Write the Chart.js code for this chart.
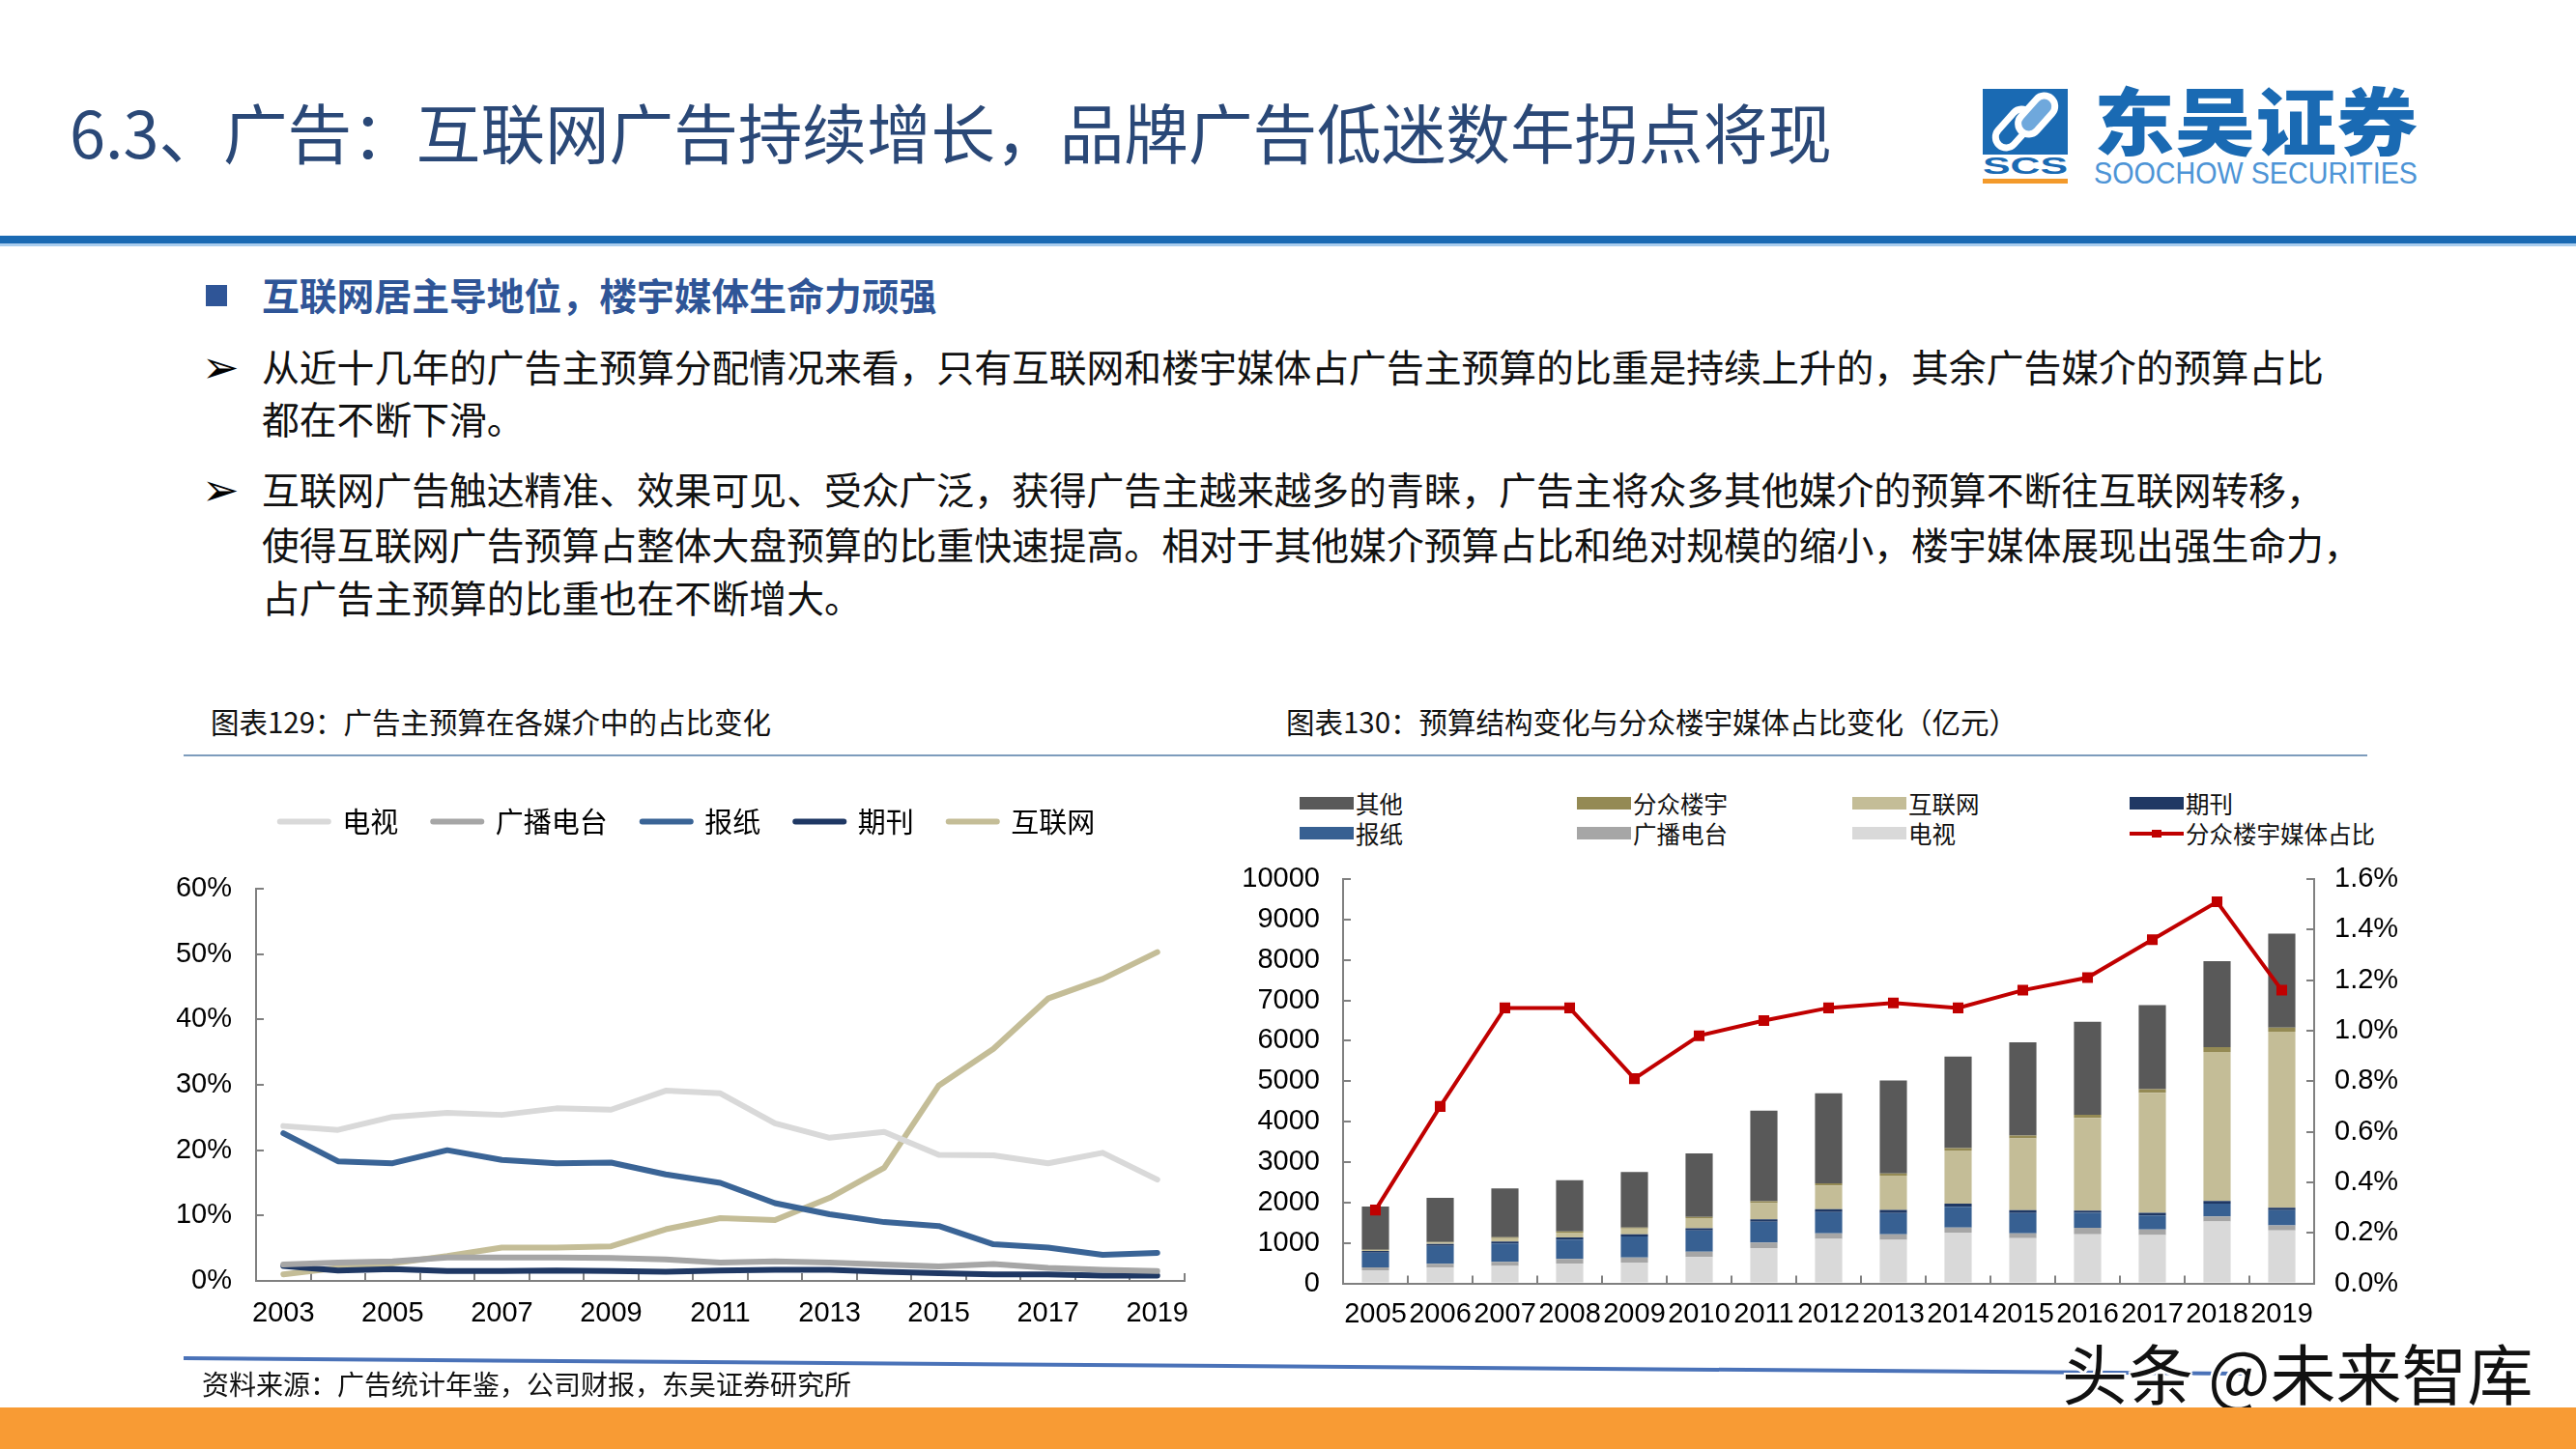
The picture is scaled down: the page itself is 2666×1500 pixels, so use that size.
<!DOCTYPE html>
<html><head><meta charset="utf-8">
<script src="https://cdn.jsdelivr.net/npm/chart.js@4.4.0/dist/chart.umd.min.js"></script>
<style>
html,body{margin:0;padding:0;background:#fff;}
body{width:2666px;height:1500px;position:relative;overflow:hidden;font-family:"Noto Sans CJK SC","Liberation Sans",sans-serif;}
.abs{position:absolute;white-space:nowrap;}
.title{left:72px;top:102px;font-size:66.6px;line-height:66.6px;color:#2a4877;}
.rule{left:0;top:244px;width:2666px;height:8px;background:#1a6ab3;}
.rule2{left:0;top:252px;width:2666px;height:3px;background:#a9cdee;}
.sq{left:213px;top:295px;width:22px;height:22px;background:#2f5597;}
.head{left:271px;top:285px;font-size:38.8px;line-height:38.8px;font-weight:bold;color:#2f5597;}
.body{left:271px;font-size:38.8px;line-height:38.8px;color:#111;}
.arrow{left:209px;font-family:"DejaVu Sans";font-size:46px;line-height:46px;color:#000;}
.ctitle{top:732px;font-size:29.5px;line-height:29.5px;color:#111;}
.sep{left:190px;top:781px;width:2260px;height:2px;background:#7d9cbc;}
.src{left:209px;top:1418px;font-size:28px;line-height:28px;color:#111;}
.wm{left:2134px;top:1386px;font-size:68px;line-height:68px;color:#111;
 text-shadow:2px 0 #fff,-2px 0 #fff,0 2px #fff,0 -2px #fff,2px 2px #fff,-2px -2px #fff,2px -2px #fff,-2px 2px #fff;}
.orange{left:0;top:1457px;width:2666px;height:43px;background:#f89b34;}
.lg{position:absolute;display:flex;align-items:center;height:30px;white-space:nowrap;}
.lg .bx{width:56px;height:13px;}
.lg .tx{margin-left:2px;font-size:24.5px;line-height:30px;color:#111;}
</style>
</head>
<body>
<div class="abs title">6.3、广告：互联网广告持续增长，品牌广告低迷数年拐点将现</div>

<svg class="abs" style="left:2048px;top:88px;" width="470" height="110" xmlns="http://www.w3.org/2000/svg">
  <rect x="4" y="4" width="88" height="68" fill="#1a6ab3"/>
  <g transform="rotate(-48 48 38)">
    <rect x="12" y="23" width="46" height="22" rx="11" fill="none" stroke="#fff" stroke-width="7"/>
    <rect x="38" y="31" width="46" height="22" rx="11" fill="#6fa8dc" stroke="#fff" stroke-width="7"/>
  </g>
  <text x="4" y="92" font-family="Liberation Sans" font-weight="bold" font-size="24" textLength="88" lengthAdjust="spacingAndGlyphs" fill="#1a6ab3">SCS</text>
  <rect x="4" y="97" width="88" height="5" fill="#f39a2b"/>
  <text x="119" y="67" font-family="Noto Sans CJK SC" font-weight="900" font-size="76" textLength="335" lengthAdjust="spacingAndGlyphs" fill="#1a6ab3">东吴证券</text>
  <text x="119" y="102" font-family="Liberation Sans" font-size="31" textLength="335" lengthAdjust="spacingAndGlyphs" fill="#4d94d6">SOOCHOW SECURITIES</text>
</svg>

<div class="abs rule"></div>
<div class="abs rule2"></div>

<div class="abs sq"></div>
<div class="abs head">互联网居主导地位，楼宇媒体生命力顽强</div>
<div class="abs arrow" style="top:357px;">➢</div>
<div class="abs body" style="top:359px;">从近十几年的广告主预算分配情况来看，只有互联网和楼宇媒体占广告主预算的比重是持续上升的，其余广告媒介的预算占比</div>
<div class="abs body" style="top:413px;">都在不断下滑。</div>
<div class="abs arrow" style="top:484px;">➢</div>
<div class="abs body" style="top:486px;">互联网广告触达精准、效果可见、受众广泛，获得广告主越来越多的青睐，广告主将众多其他媒介的预算不断往互联网转移，</div>
<div class="abs body" style="top:543px;">使得互联网广告预算占整体大盘预算的比重快速提高。相对于其他媒介预算占比和绝对规模的缩小，楼宇媒体展现出强生命力，</div>
<div class="abs body" style="top:598px;">占广告主预算的比重也在不断增大。</div>

<div class="abs ctitle" style="left:218px;">图表129：广告主预算在各媒介中的占比变化</div>
<div class="abs ctitle" style="left:1331px;">图表130：预算结构变化与分众楼宇媒体占比变化（亿元）</div>
<div class="abs sep"></div>

<canvas id="c1" class="abs" style="left:183px;top:800px;" width="1062" height="590"></canvas>
<canvas id="c2" class="abs" style="left:1275px;top:880px;" width="1230" height="510"></canvas>
<div id="legend2"></div>

<svg class="abs" style="left:0;top:0;" width="2666" height="1500" xmlns="http://www.w3.org/2000/svg">
  <line x1="190" y1="1406" x2="2330" y2="1422" stroke="#4a72b8" stroke-width="4"/>
</svg>
<div class="abs src">资料来源：广告统计年鉴，公司财报，东吴证券研究所</div>
<div class="abs wm">头条 @未来智库</div>
<div class="abs orange"></div>

<script>
// ---------- Chart 129: share of advertiser budget by medium (%) ----------
const years1 = ['2003','2004','2005','2006','2007','2008','2009','2010','2011','2012','2013','2014','2015','2016','2017','2018','2019'];
const tvShare        = [23.7, 23.1, 25.1, 25.7, 25.4, 26.4, 26.2, 29.1, 28.7, 24.1, 21.9, 22.8, 19.3, 19.2, 18.0, 19.6, 15.5];
const radioShare     = [2.5, 2.8, 3.0, 3.6, 3.6, 3.6, 3.5, 3.3, 2.8, 3.0, 2.8, 2.5, 2.2, 2.6, 2.0, 1.7, 1.5];
const newspaperShare = [22.6, 18.3, 18.0, 20.0, 18.5, 18.0, 18.1, 16.3, 15.0, 11.9, 10.2, 9.0, 8.4, 5.6, 5.1, 4.0, 4.3];
const magazineShare  = [2.3, 1.6, 1.8, 1.5, 1.5, 1.6, 1.5, 1.4, 1.6, 1.7, 1.7, 1.4, 1.2, 1.0, 1.0, 0.8, 0.8];
const internetShare  = [1.0, 2.0, 2.7, 3.8, 5.1, 5.1, 5.3, 7.9, 9.6, 9.3, 12.7, 17.3, 29.9, 35.5, 43.2, 46.2, 50.3];
const yTicks1 = [0, 10, 20, 30, 40, 50, 60];

// ---------- Chart 130: budget structure (亿元) and Focus-building share (%) ----------
const years2 = ['2005','2006','2007','2008','2009','2010','2011','2012','2013','2014','2015','2016','2017','2018','2019'];
const tvAmt       = [325, 389, 428, 484, 515, 650, 872, 1102, 1078, 1253, 1118, 1213, 1197, 1530, 1308];
const radioAmt    = [71, 95, 103, 119, 127, 135, 135, 135, 135, 127, 119, 159, 135, 127, 127];
const paperAmt    = [365, 444, 452, 476, 515, 523, 515, 523, 523, 515, 500, 373, 349, 317, 373];
const magAmt      = [40, 48, 48, 55, 55, 55, 63, 71, 79, 79, 71, 56, 63, 63, 63];
const netAmt      = [24, 33, 86, 123, 145, 247, 399, 591, 848, 1311, 1778, 2292, 2967, 3685, 4356];
const focusAmt    = [6, 15, 25, 28, 22, 31, 45, 51, 56, 61, 70, 79, 94, 121, 101];
const otherAmt    = [1070, 1093, 1205, 1268, 1372, 1570, 2244, 2228, 2300, 2261, 2307, 2299, 2077, 2126, 2324];
const focusPct    = [0.29, 0.70, 1.09, 1.09, 0.81, 0.98, 1.04, 1.09, 1.11, 1.09, 1.16, 1.21, 1.36, 1.51, 1.16];

const NUMF = "'Liberation Sans', 'Noto Sans CJK SC', sans-serif";
const CJKF = "'Noto Sans CJK SC', 'Liberation Sans', sans-serif";
const AXIS = '#808080';

function lineDs(label, data, color){
  return {label, data, borderColor:color, backgroundColor:color,
    pointBorderColor:color, pointBackgroundColor:color, pointBorderWidth:6,
    borderWidth:6, pointRadius:0, pointStyle:'line', tension:0,
    borderCapStyle:'round', borderJoinStyle:'round'};
}

const legendHeight = {
  id:'legendHeight',
  beforeInit(chart){
    const orig = chart.legend.fit;
    chart.legend.fit = function(){ orig.call(this); this.height = 120; };
  }
};

new Chart(document.getElementById('c1'), {
  type:'line',
  data:{labels:years1, datasets:[
    lineDs('电视', tvShare, '#d9d9d9'),
    lineDs('广播电台', radioShare, '#a6a6a6'),
    lineDs('报纸', newspaperShare, '#3a6496'),
    lineDs('期刊', magazineShare, '#1f3864'),
    lineDs('互联网', internetShare, '#c4bd97')
  ]},
  options:{
    responsive:false, animation:false, devicePixelRatio:1,
    layout:{padding:{top:0,right:5,bottom:0,left:0}},
    plugins:{
      tooltip:{enabled:false},
      legend:{display:true, position:'top',
        labels:{usePointStyle:true, pointStyleWidth:50, padding:36, color:'#000',
          font:{family:CJKF, size:29},
          generateLabels(chart){
            return Chart.defaults.plugins.legend.labels.generateLabels(chart).map(it => Object.assign(it, {lineCap:'round', lineWidth:6}));
          }}}
    },
    scales:{
      x:{offset:true,
        grid:{offset:true, drawOnChartArea:false, drawTicks:true, tickLength:-8, color:AXIS, lineWidth:2},
        border:{color:AXIS, width:2},
        ticks:{autoSkip:false, maxRotation:0, minRotation:0, padding:25, color:'#000', font:{family:NUMF, size:29},
          callback:(v,i)=> i%2===0 ? years1[i] : ''},
        afterFit:s=>{s.height=64; s.paddingLeft=0; s.paddingRight=19;}},
      y:{min:0, max:60,
        afterBuildTicks:s=>{s.ticks = yTicks1.map(v=>({value:v}));},
        grid:{drawOnChartArea:false, drawTicks:true, tickLength:-8, color:AXIS, lineWidth:2},
        border:{color:AXIS, width:2},
        ticks:{padding:33, color:'#000', font:{family:NUMF, size:29}, callback:v=>v+'%'},
        afterFit:s=>{s.width=82; s.paddingTop=0; s.paddingBottom=0;}}
    }
  },
  plugins:[legendHeight]
});

const barChart = new Chart(document.getElementById('c2'), {
  type:'bar',
  data:{labels:years2, datasets:[
    {label:'电视', data:tvAmt, backgroundColor:'#d9d9d9', order:1},
    {label:'广播电台', data:radioAmt, backgroundColor:'#a6a6a6', order:1},
    {label:'报纸', data:paperAmt, backgroundColor:'#376092', order:1},
    {label:'期刊', data:magAmt, backgroundColor:'#1f3864', order:1},
    {label:'互联网', data:netAmt, backgroundColor:'#c4bd97', order:1},
    {label:'分众楼宇', data:focusAmt, backgroundColor:'#948a54', order:1},
    {label:'其他', data:otherAmt, backgroundColor:'#595959', order:1},
    {type:'line', label:'分众楼宇媒体占比', data:focusPct, yAxisID:'y1', order:0,
      borderColor:'#c00000', backgroundColor:'#c00000', borderWidth:4, tension:0,
      pointStyle:'rect', pointRadius:5, pointBackgroundColor:'#c00000', pointBorderColor:'#c00000'}
  ]},
  options:{
    responsive:false, animation:false, devicePixelRatio:1,
    layout:{padding:{top:30,right:0,bottom:0,left:0}},
    datasets:{bar:{barPercentage:0.42, categoryPercentage:1}},
    plugins:{legend:{display:false}, tooltip:{enabled:false}},
    scales:{
      x:{stacked:true,
        grid:{offset:true, drawOnChartArea:false, drawTicks:true, tickLength:-8, color:AXIS, lineWidth:2},
        border:{color:AXIS, width:2},
        ticks:{autoSkip:false, maxRotation:0, minRotation:0, padding:23, color:'#000', font:{family:NUMF, size:29}},
        afterFit:s=>{s.height=61.5; s.paddingLeft=0; s.paddingRight=0;}},
      y:{stacked:true, min:0, max:10000,
        grid:{drawOnChartArea:false, drawTicks:true, tickLength:-8, color:AXIS, lineWidth:2},
        border:{color:AXIS, width:2},
        ticks:{stepSize:1000, padding:32, color:'#000', font:{family:NUMF, size:29}, callback:v=>String(v)},
        afterFit:s=>{s.width=115; s.paddingTop=0; s.paddingBottom=0;}},
      y1:{position:'right', min:0, max:1.6,
        grid:{drawOnChartArea:false, drawTicks:true, tickLength:-8, color:AXIS, lineWidth:2},
        border:{color:AXIS, width:2},
        ticks:{stepSize:0.2, padding:29, color:'#000', font:{family:NUMF, size:29}, callback:v=>v.toFixed(1)+'%'},
        afterFit:s=>{s.width=110; s.paddingTop=0; s.paddingBottom=0;}}
    }
  }
});

// HTML legend for chart 130 (grid of 4 columns x 2 rows), built from the chart's datasets
(function(){
  const order = [6,5,4,3,2,1,0,7];
  const cols = [1345,1632,1917,2204];
  const rowsC = [831.5,862.5];
  const host = document.getElementById('legend2');
  order.forEach((di,k)=>{
    const ds = barChart.data.datasets[di];
    const el = document.createElement('div');
    el.className='lg';
    el.style.left = cols[k%4]+'px';
    el.style.top = (rowsC[Math.floor(k/4)]-15)+'px';
    let sample;
    if (ds.type === 'line'){
      sample = '<div style="position:relative;width:56px;height:13px;">'+
        '<div style="position:absolute;left:0;top:4.5px;width:56px;height:4px;background:'+ds.borderColor+';"></div>'+
        '<div style="position:absolute;left:23px;top:2.5px;width:10px;height:8px;background:'+ds.borderColor+';"></div></div>';
    } else {
      sample = '<div class="bx" style="background:'+ds.backgroundColor+';"></div>';
    }
    el.innerHTML = sample + '<span class="tx">'+ds.label+'</span>';
    host.appendChild(el);
  });
})();
</script>
</body></html>
